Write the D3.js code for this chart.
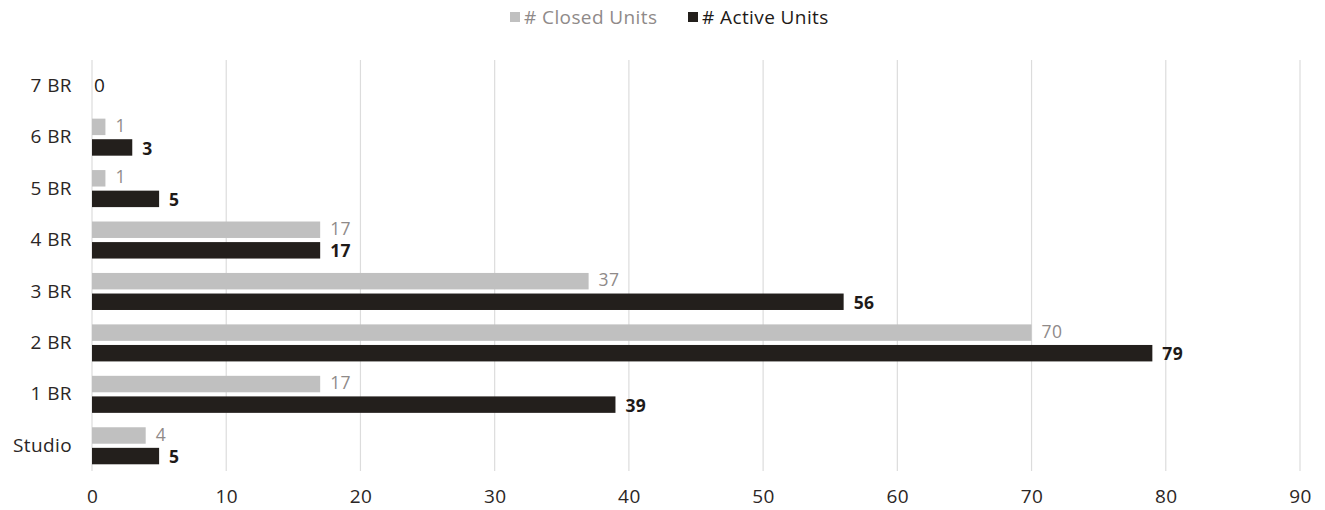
<!DOCTYPE html>
<html><head><meta charset="utf-8">
<script src="https://cdn.jsdelivr.net/npm/d3@7"></script>
<style>body{margin:0;background:#fff}svg{display:block}text{font-family:"Open Sans",Lato,sans-serif;letter-spacing:0.4px}</style>
</head><body>
<svg id="chart" width="1325" height="510"></svg>
<script>
const categories = ["7 BR","6 BR","5 BR","4 BR","3 BR","2 BR","1 BR","Studio"];
const closedUnits = [0,1,1,17,37,70,17,4];
const activeUnits = [0,3,5,17,56,79,39,5];
const seriesNames = ["# Closed Units","# Active Units"];
const xTicks = [0,10,20,30,40,50,60,70,80,90];

const FS = 19;
const VFS = 17.5;
const svg = d3.select("#chart");
const colors = {"# Closed Units":"#c0c0c0","# Active Units":"#231f1c"};
const labelColors = {"# Closed Units":"#8f8a89","# Active Units":"#1e1a18"};

const x = d3.scaleLinear().domain([0,90]).range([92,1300]);
const y = d3.scaleBand().domain(categories).range([60,471.5]).paddingInner(0.28).paddingOuter(0.14);
const ySub = d3.scaleBand().domain(seriesNames).range([0,y.bandwidth()]).paddingInner(0.2);

// gridlines
svg.append("g").selectAll("line").data(xTicks).join("line")
  .attr("x1",d=>x(d)).attr("x2",d=>x(d)).attr("y1",60).attr("y2",471)
  .attr("stroke","#dcdcdc").attr("stroke-width",1.2);

// x axis labels
const xAxis = d3.axisBottom(x).tickValues(xTicks).tickSize(0).tickPadding(0);
const gx = svg.append("g").attr("transform","translate(0,489)").call(xAxis);
gx.select(".domain").remove();
gx.selectAll("text").attr("font-size",FS).attr("fill","#2b2625").attr("dy","0.71em");

// y axis labels
const yAxis = d3.axisLeft(y).tickSize(0).tickPadding(20);
const gy = svg.append("g").attr("transform","translate(92,0)").call(yAxis);
gy.select(".domain").remove();
gy.selectAll("text").attr("font-size",FS).attr("fill","#2b2625");

const rows = categories.map((c,i)=>({cat:c, vals:[
  {s:seriesNames[0], v:closedUnits[i]},
  {s:seriesNames[1], v:activeUnits[i]}]}));

const g = svg.append("g");
rows.forEach(r=>{
  const allZero = r.vals.every(d=>d.v===0);
  if(allZero){
    g.append("text").attr("x",x(0)+2).attr("y",y(r.cat)+y.bandwidth()/2).attr("dy","0.35em")
      .attr("font-size",FS).attr("fill","#1e1a18").text("0");
    return;
  }
  r.vals.forEach((d,j)=>{
    g.append("rect").attr("x",x(0)).attr("y",y(r.cat)+ySub(d.s))
      .attr("width",x(d.v)-x(0)).attr("height",ySub.bandwidth()).attr("fill",colors[d.s]);
    g.append("text").attr("x",x(d.v)+10).attr("y",y(r.cat)+ySub(d.s)+ySub.bandwidth()/2 + (j===0?-1:1))
      .attr("dy","0.35em").attr("font-size",VFS)
      .attr("font-weight",d.s===seriesNames[1]?"bold":"normal")
      .attr("fill",labelColors[d.s]).text(d.v);
  });
});

// legend
const legendX = [510, 688];
const lg = svg.append("g");
seriesNames.forEach((s,i)=>{
  lg.append("rect").attr("x",legendX[i]).attr("y",12).attr("width",10).attr("height",10).attr("fill",colors[s]);
  lg.append("text").attr("x",legendX[i]+14).attr("y",17).attr("dy","0.35em").attr("font-size",FS)
    .attr("fill",i===0?"#8f8a89":"#1e1a18").text(s);
});
</script>
</body></html>
